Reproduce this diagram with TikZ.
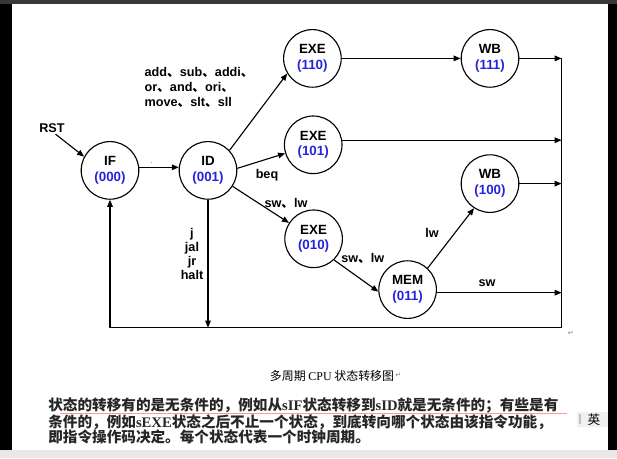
\documentclass[tikz,border=0pt]{standalone}
\usepackage{fontspec}
\setmainfont{Liberation Sans}
\newfontfamily\cjk{Noto Sans CJK SC}
\newfontfamily\tnr{Liberation Serif}
\newfontfamily\symb{DejaVu Sans}
\usetikzlibrary{arrows.meta,positioning}
\definecolor{codeblue}{RGB}{36,36,220}
\newcommand{\dunhao}{{\cjk 、}}

\begin{document}
\begin{tikzpicture}[
  state/.style={draw, circle, line width=0.8pt, minimum size=1.44cm, inner sep=0pt, align=center, font=\fontsize{9.5}{11.3}\selectfont\bfseries},
  lbl/.style={font=\fontsize{9}{10.6}\selectfont\bfseries, inner sep=1pt, align=center},
  arr/.style={line width=0.8pt, -{Triangle[length=5pt,width=4pt]}},
  retsign/.style={font=\symb\fontsize{5}{6}\selectfont, text=gray, inner sep=0pt}
]
% screen frame
\useasboundingbox (0,0) rectangle (15.425,11.45);
\fill[gray!18] (0,0) rectangle (15.425,0.2);
\fill[black] (0,0.2) rectangle (0.29,11.35);
\fill[black] (15.2,0.2) rectangle (15.425,11.35);
\fill[black!78] (0,11.34) rectangle (15.425,11.45);

% States
\node[state] (IF) at (2.75,7.19) {IF\\\textcolor{codeblue}{(000)}};
\node[state] (ID) at (5.2,7.19) {ID\\\textcolor{codeblue}{(001)}};
\node[state] (EXE110) at (7.81,9.99) {EXE\\\textcolor{codeblue}{(110)}};
\node[state] (WB111) at (12.25,9.99) {WB\\\textcolor{codeblue}{(111)}};
\node[state] (EXE101) at (7.83,7.83) {EXE\\\textcolor{codeblue}{(101)}};
\node[state] (EXE010) at (7.84,5.48) {EXE\\\textcolor{codeblue}{(010)}};
\node[state] (WB100) at (12.25,6.86) {WB\\\textcolor{codeblue}{(100)}};
\node[state] (MEM) at (10.19,4.21) {MEM\\\textcolor{codeblue}{(011)}};
\coordinate (rbot) at (14.04,3.26);

% Labels
\node[lbl] (rst) at (1.3,8.25) {RST};
\node[font=\fontsize{6}{7}\selectfont, text=gray, inner sep=0pt, anchor=base] (dot) at (3.79,7.37) {.};
\node[lbl, align=left, anchor=west] (alu) at (3.575,9.26) {add\dunhao sub\dunhao addi\dunhao\\or\dunhao and\dunhao ori\dunhao\\move\dunhao slt\dunhao sll};
\node[lbl] (beq) at (6.675,7.075) {beq};
\node[lbl] (swlw1) at (7.15,6.375) {sw\dunhao lw};
\node[lbl, font=\fontsize{9}{9.9}\selectfont\bfseries] (jump) at (4.8,5.1) {j\\jal\\jr\\halt};
\node[lbl] (swlw2) at (9.07,4.99) {sw\dunhao lw};
\node[lbl] (lw) at (10.8,5.625) {lw};
\node[lbl] (sw) at (12.175,4.375) {sw};

% Transitions
\draw[arr] (rst.-60) -- (IF.152);
\draw[arr] (IF.6) -- (ID.174);
\draw[arr] (ID.43) -- (EXE110.211);
\draw[arr] (ID.4) -- (EXE101.197);
\draw[arr] (ID) -- (EXE010);
\draw[arr] (EXE010.-46) -- (MEM.184);
\draw[arr] (MEM.47) -- (WB100.237);
\draw[arr] (EXE110) -- (WB111);

% back to IF
\draw[arr] (WB111) -- (WB111 -| rbot);
\draw[arr] (EXE101.9) -- (EXE101.9 -| rbot);
\draw[arr] (WB100) -- (WB100 -| rbot);
\draw[arr] (MEM.-6) -- (MEM.-6 -| rbot);
\draw[arr] (ID) -- (ID |- rbot);
\draw[arr] (WB111 -| rbot) -- (rbot) -| (IF);
\node[retsign] (retmark) at (14.27,3.125) {↵};

% Caption and note
\node[font=\cjk\fontsize{8.5}{10}\selectfont, inner sep=0pt] (caption) at (8.3,2.06) {多周期 {\tnr CPU} 状态转移图};
\node[retsign, right=0.5pt of caption] (capmark) {↵};
\draw[red!40, line width=0.5pt] (1.5,1.11) -- (14.17,1.11);
\node[font=\cjk\bfseries\fontsize{10.4}{10.9}\selectfont, text=black!85, align=left, anchor=west, inner sep=0pt] (note) at (1.2,0.93)
  {状态的转移有的是无条件的，例如从{\tnr sIF}状态转移到{\tnr sID}就是无条件的；有些是有\\
   条件的，例如{\tnr sEXE}状态之后不止一个状态，到底转向哪个状态由该指令功能，\\
   即指令操作码决定。每个状态代表一个时钟周期。};

% input method box
\fill[gray!12] (14.42,0.78) rectangle (15.2,1.16);
\draw[gray!50, line width=1pt] (14.5,0.85) -- (14.5,1.09);
\node[font=\cjk\fontsize{9}{10}\selectfont, inner sep=0pt] (ime) at (14.85,0.97) {英};
\end{tikzpicture}
\end{document}
